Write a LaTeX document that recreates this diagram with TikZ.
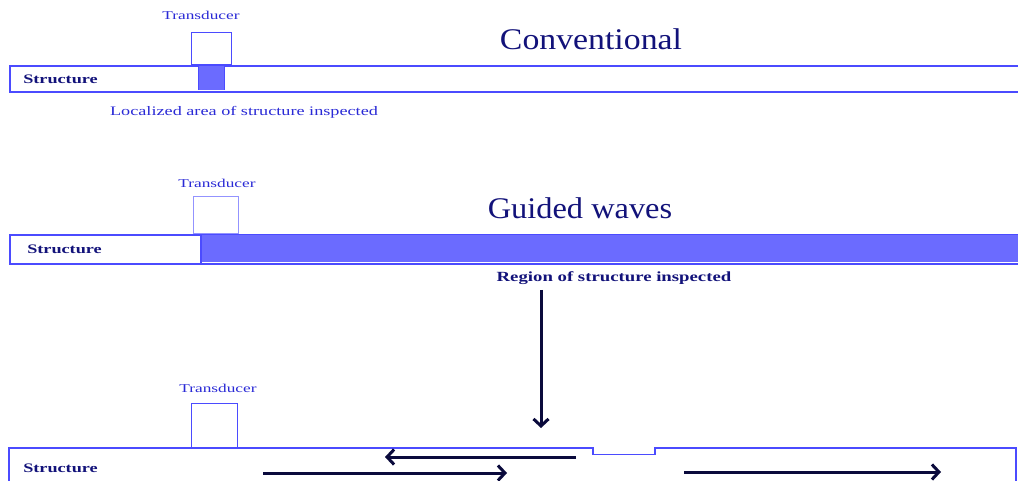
\documentclass[tikz,border=0pt]{standalone}
\usepackage{fontspec}
\setmainfont{Liberation Serif}
\usetikzlibrary{arrows.meta}
\definecolor{lineblue}{HTML}{4B4BFF}
\definecolor{fillblue}{HTML}{6B6BFF}
\definecolor{txtblue}{HTML}{2A2AD6}
\definecolor{navy}{HTML}{12127A}
\definecolor{arrowcol}{HTML}{0A0A3C}
\tikzset{
  structbox/.style={draw=lineblue, line width=1.8pt},
  tdbox/.style={draw=lineblue, line width=1.4pt, fill=white},
  smalltext/.style={inner sep=0pt, text=txtblue},
  tdlabel/.style={smalltext, font=\fontsize{12}{14}\selectfont, xscale=1.44},
  loclabel/.style={smalltext, font=\fontsize{13}{15}\selectfont, xscale=1.4},
  boldtext/.style={inner sep=0pt, text=navy},
  structlabel/.style={boldtext, font=\fontsize{13}{15}\selectfont\bfseries, xscale=1.4, anchor=west},
  reglabel/.style={boldtext, font=\fontsize{14}{16}\selectfont\bfseries, xscale=1.34},
  title/.style={inner sep=0pt, text=navy, font=\fontsize{30}{34}\selectfont},
  wave/.style={draw=arrowcol, line width=3pt, -{Straight Barb[length=7pt,width=15pt,line width=3pt]}}
}
\begin{document}
\begin{tikzpicture}[x=1pt,y=-1pt]
\useasboundingbox (0,0) rectangle (1018,481);
\clip (0,0) rectangle (1018,481);
\fill[white] (0,0) rectangle (1018,481);

% ---------- Conventional ----------
\node[title, xscale=1.126] (conv) at (591,39) {Conventional};
\node[structbox, minimum width=1015pt, minimum height=26pt, inner sep=0pt, anchor=north west] (s1) at (9,65) {};
\node[tdbox, minimum width=40pt, minimum height=32pt, inner sep=0pt, anchor=south west] (t1) at (191,65) {};
\node[tdlabel] (t1l) at (201,15) {Transducer};
\fill[fillblue] (198,66) rectangle (224,90);
\draw[lineblue, line width=1pt] (198,66) -- (198,90) (224,66) -- (224,90);
\node[structlabel] (s1l) at (23,79) {Structure};
\node[loclabel] (loc) at (244,112) {Localized area of structure inspected};

% ---------- Guided waves ----------
\node[title, xscale=1.08] (gw) at (580,208) {Guided waves};
\node[structbox, minimum width=1015pt, minimum height=29pt, inner sep=0pt, anchor=north west] (s2) at (9,234) {};
\fill[fillblue] (201,235) rectangle (1020,262);
\draw[lineblue, line width=1.6pt] (201,234) -- (201,263);
\node[tdbox, minimum width=45pt, minimum height=37pt, inner sep=0pt, anchor=south west, draw=lineblue!60] (t2) at (193,234) {};
\node[tdlabel] (t2l) at (217,183) {Transducer};
\node[structlabel] (s2l) at (27,249) {Structure};
\node[reglabel] (reg) at (614,278) {Region of structure inspected};

% ---------- Third structure ----------
\coordinate (n1) at (593,448);
\coordinate (n2) at (655,448);
\draw[lineblue, line width=1.5pt] (9,485) -- (9,448) -- (n1) -- (593,454.5) -- (655,454.5) -- (n2) -- (1016,448) -- (1016,485);
\node[tdbox, minimum width=46pt, minimum height=44pt, inner sep=0pt, anchor=south west] (t3) at (191,448) {};
\node[tdlabel] (t3l) at (218,388) {Transducer};
\node[structlabel] (s3l) at (23,468) {Structure};

% arrows
\coordinate (d0) at (541,290);
\coordinate (d1) at (541,428);
\draw[wave] (d0) -- (d1);
\coordinate (l0) at (576,457);
\coordinate (l1) at (385,457);
\draw[wave] (l0) -- (l1);
\coordinate (r0) at (263,473);
\coordinate (r1) at (507,473);
\draw[wave] (r0) -- (r1);
\coordinate (q0) at (684,472);
\coordinate (q1) at (941,472);
\draw[wave] (q0) -- (q1);
\end{tikzpicture}
\end{document}
